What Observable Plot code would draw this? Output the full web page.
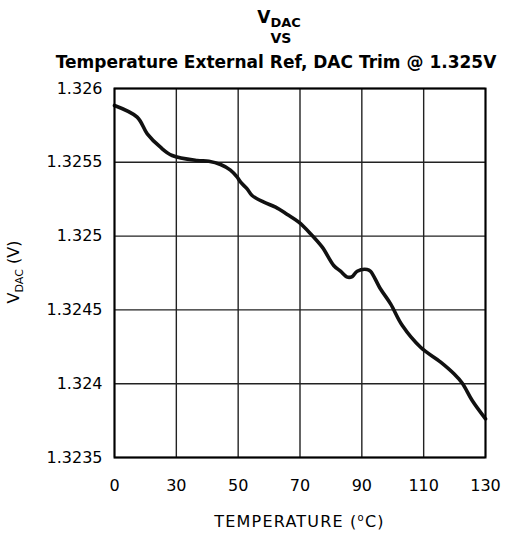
<!DOCTYPE html>
<html><head><meta charset="utf-8">
<script src="https://cdn.jsdelivr.net/npm/d3@7"></script>
<script src="https://cdn.jsdelivr.net/npm/@observablehq/plot@0.6"></script>
<style>
body{margin:0;background:#fff;}
#wrap{width:521px;height:535px;background:#fff;}
svg{display:block;}
</style></head><body>
<div id="wrap"></div>
<script>
// ---- data ----
const temperature = [0, 11.0, 15.9, 22.3, 28.0, 36.75, 40.5, 44.3, 47.5, 49.7, 50.8, 52.9, 54.5, 58.3, 62.1, 65.9, 69.6, 73.4, 77.2, 80.9, 83.1, 85.3, 86.9, 88.5, 91.7, 92.8, 96.0, 99.3, 103.1, 109.0, 115.5, 119.8, 122.5, 125.7, 130];
const vdac = [1.325885, 1.325806, 1.325693, 1.325602, 1.325546, 1.325512, 1.325507, 1.325485, 1.325447, 1.325399, 1.325365, 1.32532, 1.325275, 1.32523, 1.325196, 1.325146, 1.325094, 1.325016, 1.324925, 1.324801, 1.324762, 1.324722, 1.324726, 1.324762, 1.324774, 1.324762, 1.324643, 1.324541, 1.324394, 1.324247, 1.324146, 1.324067, 1.324003, 1.323886, 1.323762];
const xTicks = [0, 30, 50, 70, 90, 110, 130];
const xTickLabels = ["0", "30", "50", "70", "90", "110", "130"];
const yTicks = [1.3235, 1.324, 1.3245, 1.325, 1.3255, 1.326];
const yTickLabels = ["1.3235", "1.324", "1.3245", "1.325", "1.3255", "1.326"];

const data = temperature.map((t, i) => ({t, v: vdac[i]}));

const W = 521, H = 460, TOPH = 75;
const mL = 114, mR = 36, mT = 13, mB = 78;
const font = "DejaVu Sans, sans-serif";

// title (separate svg above the chart)
const wrap = d3.select("#wrap");
const tsvg = wrap.append("svg").attr("width", W).attr("height", TOPH)
  .attr("font-family", font).attr("font-weight", "bold").attr("fill", "#000");
const cx = 279;
const l1 = tsvg.append("text").attr("x", cx).attr("y", 22.5).attr("text-anchor", "middle").attr("font-size", 17);
l1.append("tspan").text("V");
l1.append("tspan").attr("font-size", 13).attr("dy", 4.5).text("DAC");
tsvg.append("text").attr("x", cx + 2).attr("y", 42.5).attr("text-anchor", "middle").attr("font-size", 14).text("VS");
tsvg.append("text").attr("x", cx - 3).attr("y", 68).attr("text-anchor", "middle").attr("font-size", 17)
  .text("Temperature External Ref, DAC Trim @ 1.325V");

// x scale: evenly spaced tick positions as in the reference
const xRange = xTicks.map((_, i) => mL + i * (W - mL - mR) / (xTicks.length - 1));

const chart = Plot.plot({
  width: W, height: H,
  marginLeft: mL, marginRight: mR, marginTop: mT, marginBottom: mB,
  style: {fontFamily: font, fontSize: "16px", color: "#000", background: "#fff", overflow: "visible"},
  x: {type: "linear", domain: xTicks, range: xRange},
  y: {domain: [1.3235, 1.326]},
  marks: [
    Plot.gridX(xTicks, {stroke: "#222", strokeOpacity: 1, strokeWidth: 1.4}),
    Plot.gridY(yTicks, {stroke: "#222", strokeOpacity: 1, strokeWidth: 1.4}),
    Plot.line(data, {x: "t", y: "v", stroke: "#111", strokeWidth: 3.6, curve: "catmull-rom"}),
    Plot.frame({stroke: "#000", strokeWidth: 2}),
    Plot.axisX(xTicks, {tickSize: 0, tickPadding: 22, fontSize: 16, label: null,
      tickFormat: d => xTickLabels[xTicks.indexOf(d)]}),
    Plot.axisY(yTicks, {tickSize: 0, tickPadding: 12, fontSize: 16, label: null,
      tickFormat: d => yTickLabels[yTicks.indexOf(d)]})
  ]
});
wrap.node().appendChild(chart);

const svg = d3.select(chart);
// x axis label
const xl = svg.append("text").attr("x", 299.5).attr("y", 527 - TOPH).attr("text-anchor", "middle")
  .attr("font-family", font).attr("font-size", 16).attr("fill", "#000").attr("letter-spacing", 1.2);
xl.append("tspan").text("TEMPERATURE (");
xl.append("tspan").attr("font-size", 10).attr("dy", -6).text("o");
xl.append("tspan").attr("dy", 6).text("C)");
// y axis label
const yl = svg.append("text").attr("transform", `translate(19,${272 - TOPH}) rotate(-90)`).attr("text-anchor", "middle")
  .attr("font-family", font).attr("font-size", 16).attr("fill", "#000");
yl.append("tspan").text("V");
yl.append("tspan").attr("font-size", 11).attr("dy", 4).text("DAC");
yl.append("tspan").attr("dy", -4).text(" (V)");
</script>
</body></html>
